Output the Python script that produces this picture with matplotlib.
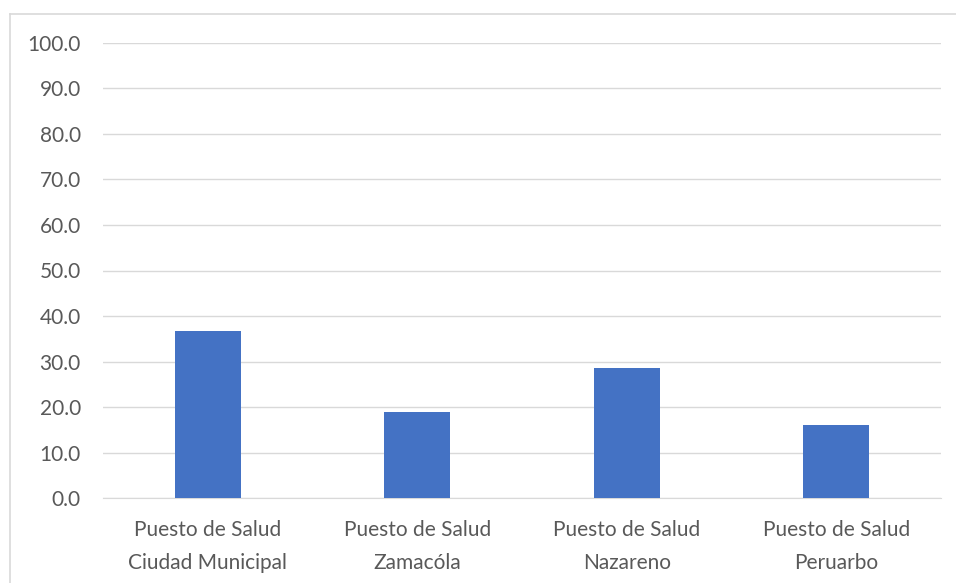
import matplotlib
matplotlib.use("Agg")
import matplotlib.pyplot as plt
from matplotlib.lines import Line2D

categories = ["Puesto de Salud\nCiudad Municipal", "Puesto de Salud\nZamacóla",
              "Puesto de Salud\nNazareno", "Puesto de Salud\nPeruarbo"]
values = [36.7, 18.9, 28.7, 16.1]
yticks = [0, 10, 20, 30, 40, 50, 60, 70, 80, 90, 100]

plt.rcParams['font.family'] = ['Lato', 'DejaVu Sans']

W, H = 956, 583
fig = plt.figure(figsize=(W/100, H/100), dpi=100)
ax = fig.add_axes([103/W, 1-498.3/H, (941-103)/W, (498.3-42.7)/H])

x = range(len(categories))
ax.bar(x, values, width=0.315, color="#4472C4", zorder=3)
ax.set_xlim(-0.5, len(categories)-0.5)
ax.set_ylim(0, 100)
ax.set_yticks(yticks)
ax.set_yticklabels([f"{v:.1f}" for v in yticks])
ax.set_xticks(list(x))
ax.set_xticklabels(categories)
ax.grid(axis='y', color="#D9D9D9", linewidth=1, zorder=0)
for s in ["top", "right", "left"]:
    ax.spines[s].set_visible(False)
ax.spines["bottom"].set_color("#D9D9D9")
ax.tick_params(axis='both', length=0, labelsize=15, colors="#595959")
ax.tick_params(axis='y', pad=16)
ax.tick_params(axis='x', pad=15.5)
for lbl in ax.get_xticklabels():
    lbl.set_linespacing(1.8)

# outer chart border (top and left visible)
fig.add_artist(Line2D([10/W, 1.0], [1-14/H, 1-14/H], transform=fig.transFigure,
                      color="#D9D9D9", linewidth=1.2))
fig.add_artist(Line2D([10/W, 10/W], [0, 1-14/H], transform=fig.transFigure,
                      color="#D9D9D9", linewidth=1.2))
fig.savefig("out.png", dpi=100)
